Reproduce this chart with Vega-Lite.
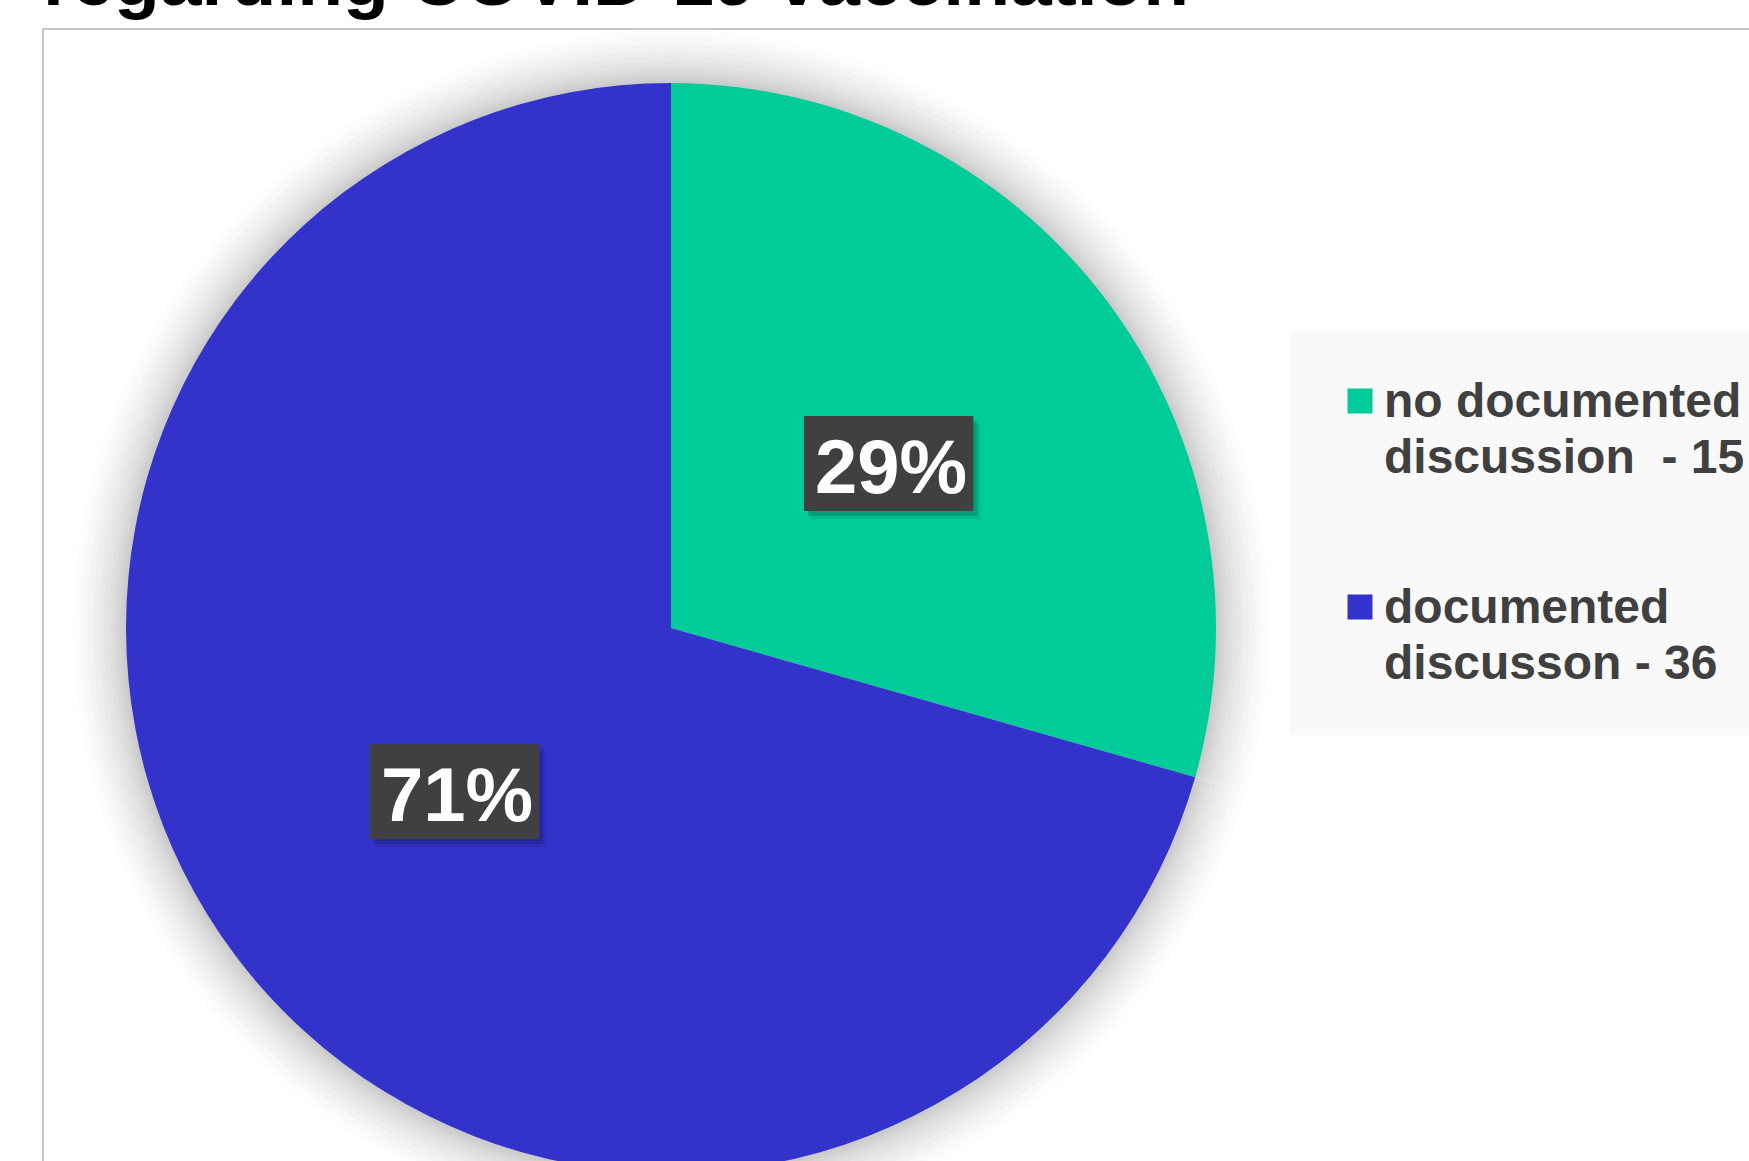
{
  "$schema": "https://vega.github.io/schema/vega-lite/v6.json",
  "width": 1720,
  "height": 1160,
  "autosize": "none",
  "padding": {"left": 43, "top": 29, "right": 0, "bottom": 0},
  "background": "white",
  "title": {
    "text": "regarding COVID-19 vaccination",
    "anchor": "start",
    "frame": "group",
    "font": "Liberation Sans",
    "fontSize": 75,
    "fontWeight": "bold",
    "color": "#000000",
    "baseline": "alphabetic",
    "offset": -51
  },
  "data": {
    "values": [
      {"category": "no documented discussion  - 15", "count": 15, "pct": "29%"},
      {"category": "documented discusson - 36", "count": 36, "pct": "71%"}
    ]
  },
  "encoding": {
    "theta": {"field": "count", "type": "quantitative", "stack": true},
    "order": {"field": "count", "type": "quantitative", "sort": "ascending"},
    "x": {"value": 628},
    "y": {"value": 599}
  },
  "layer": [
    {"mark": {"type": "arc", "radius": 598, "color": "#000000", "opacity": 0.012}, "encoding": {"detail": {"field": "category"}}},
    {"mark": {"type": "arc", "radius": 591, "color": "#000000", "opacity": 0.015}, "encoding": {"detail": {"field": "category"}}},
    {"mark": {"type": "arc", "radius": 584, "color": "#000000", "opacity": 0.018}, "encoding": {"detail": {"field": "category"}}},
    {"mark": {"type": "arc", "radius": 578, "color": "#000000", "opacity": 0.02}, "encoding": {"detail": {"field": "category"}}},
    {"mark": {"type": "arc", "radius": 572, "color": "#000000", "opacity": 0.02}, "encoding": {"detail": {"field": "category"}}},
    {"mark": {"type": "arc", "radius": 567, "color": "#000000", "opacity": 0.02}, "encoding": {"detail": {"field": "category"}}},
    {"mark": {"type": "arc", "radius": 562, "color": "#000000", "opacity": 0.02}, "encoding": {"detail": {"field": "category"}}},
    {"mark": {"type": "arc", "radius": 558, "color": "#000000", "opacity": 0.02}, "encoding": {"detail": {"field": "category"}}},
    {"mark": {"type": "arc", "radius": 554, "color": "#000000", "opacity": 0.02}, "encoding": {"detail": {"field": "category"}}},
    {"mark": {"type": "arc", "radius": 551, "color": "#000000", "opacity": 0.02}, "encoding": {"detail": {"field": "category"}}},
    {"mark": {"type": "arc", "radius": 548, "color": "#000000", "opacity": 0.02}, "encoding": {"detail": {"field": "category"}}},
    {
      "mark": {"type": "arc", "radius": 545},
      "encoding": {
        "color": {
          "field": "category",
          "type": "nominal",
          "scale": {"domain": ["no documented discussion  - 15", "documented discusson - 36"], "range": ["#00CC99", "#3333CC"]},
          "legend": {
            "orient": "none",
            "legendX": 1247,
            "legendY": 302,
            "title": null,
            "fillColor": "#f9f9f9",
            "padding": 46,
            "symbolType": "square",
            "symbolSize": 625,
            "symbolStrokeWidth": 0,
            "symbolOpacity": 1,
            "labelFont": "Liberation Sans",
            "labelFontWeight": "bold",
            "labelFontSize": 48,
            "labelColor": "#404040",
            "labelLimit": 1000,
            "labelOffset": 0,
            "labelBaseline": "alphabetic",
            "rowPadding": 100,
            "labelExpr": "datum.label == 'no documented discussion  - 15' ? ['no documented', 'discussion \u00a0- 15'] : ['documented', 'discusson - 36']"
          }
        }
      }
    },
    {"mark": {"type": "text", "radius": 272, "font": "DejaVu Sans Mono", "fontSize": 80, "text": "███▌", "color": "#000000", "opacity": 0.08, "baseline": "middle", "align": "center", "dx": 20, "dy": 11}, "encoding": {"detail": {"field": "category"}}},
    {"mark": {"type": "text", "radius": 272, "font": "DejaVu Sans Mono", "fontSize": 80, "text": "███▌", "color": "#000000", "opacity": 0.15, "baseline": "middle", "align": "center", "dx": 17, "dy": 8}, "encoding": {"detail": {"field": "category"}}},
    {"mark": {"type": "text", "radius": 272, "font": "DejaVu Sans Mono", "fontSize": 80, "text": "███▌", "color": "#404040", "baseline": "middle", "align": "center", "dx": 13, "dy": 3}, "encoding": {"detail": {"field": "category"}}},
    {
      "mark": {"type": "text", "radius": 272, "font": "Liberation Sans", "fontWeight": "bold", "fontSize": 76, "color": "#ffffff", "baseline": "middle", "align": "center", "dx": 3, "dy": 6},
      "encoding": {"text": {"field": "pct"}, "detail": {"field": "category"}}
    }
  ],
  "config": {
    "view": {"stroke": "#c8c8c8", "strokeWidth": 2},
    "style": {"guide-label": {"dy": 16, "lineHeight": 56}}
  }
}
